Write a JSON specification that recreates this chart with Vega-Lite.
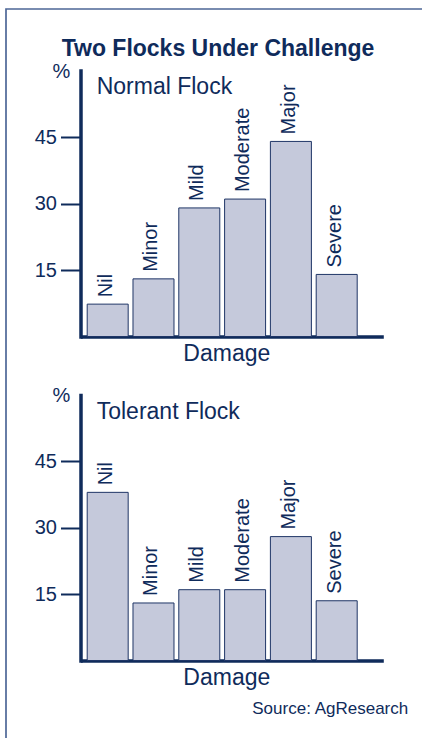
{
  "$schema": "https://vega.github.io/schema/vega-lite/v6.json",
  "width": 418,
  "height": 731,
  "autosize": {"type": "none"},
  "padding": {"left": 6, "top": 9, "right": -2, "bottom": -2},
  "background": "white",
  "title": {
    "text": "Two Flocks Under Challenge",
    "anchor": "middle",
    "frame": "group",
    "baseline": "alphabetic",
    "offset": -69.5,
    "dx": 3,
    "font": "Liberation Sans",
    "fontSize": 23,
    "fontWeight": "bold",
    "color": "#0f2b5b"
  },
  "config": {
    "view": {"stroke": "#4e6797", "strokeWidth": 1.7},
    "font": "Liberation Sans",
    "text": {"font": "Liberation Sans", "color": "#0f2b5b"},
    "axis": {
      "labelFont": "Liberation Sans",
      "titleFont": "Liberation Sans",
      "titleFontWeight": "normal",
      "grid": false
    }
  },
  "data": {
    "values": [
      {"flock": "Normal Flock", "damage": "Nil", "pct": 7.3},
      {"flock": "Normal Flock", "damage": "Minor", "pct": 13},
      {"flock": "Normal Flock", "damage": "Mild", "pct": 29},
      {"flock": "Normal Flock", "damage": "Moderate", "pct": 31},
      {"flock": "Normal Flock", "damage": "Major", "pct": 44},
      {"flock": "Normal Flock", "damage": "Severe", "pct": 14},
      {"flock": "Tolerant Flock", "damage": "Nil", "pct": 38},
      {"flock": "Tolerant Flock", "damage": "Minor", "pct": 13},
      {"flock": "Tolerant Flock", "damage": "Mild", "pct": 16},
      {"flock": "Tolerant Flock", "damage": "Moderate", "pct": 16},
      {"flock": "Tolerant Flock", "damage": "Major", "pct": 28},
      {"flock": "Tolerant Flock", "damage": "Severe", "pct": 13.5}
    ]
  },
  "resolve": {
    "scale": {"y": "independent"},
    "axis": {"x": "independent", "y": "independent"}
  },
  "layer": [
    {
      "transform": [{"filter": "datum.flock === 'Normal Flock'"}],
      "layer": [
        {
          "mark": {"type": "bar", "fill": "#c5c9db", "stroke": "#1f3566", "strokeWidth": 1},
          "encoding": {
            "x": {
              "field": "damage", "type": "nominal",
              "sort": ["Nil", "Minor", "Mild", "Moderate", "Major", "Severe"],
              "scale": {"range": [74.5, 377.3], "paddingInner": 0.105, "paddingOuter": 0.358, "align": 0.204},
              "axis": {
                "orient": "bottom", "offset": -403.5,
                "domainWidth": 3.5, "domainColor": "#0f2b5b",
                "ticks": false, "labels": false,
                "title": "Damage", "titleFontSize": 23, "titleColor": "#0f2b5b",
                "titleX": 220.3, "titleY": 24.2, "titleAlign": "center", "titleBaseline": "alphabetic"
              }
            },
            "y": {
              "field": "pct", "type": "quantitative",
              "scale": {"domain": [0, 60], "range": [327.5, 61.5], "nice": false},
              "axis": {
                "orient": "left", "offset": -74.5, "values": [15, 30, 45],
                "domainWidth": 3.5, "domainColor": "#0f2b5b", "domainCap": "square",
                "tickSize": 20, "tickWidth": 2, "tickColor": "#0f2b5b",
                "labelFontSize": 20, "labelColor": "#0f2b5b", "labelPadding": 4,
                "title": "%", "titleAngle": 0, "titleX": -19.5, "titleY": 62.5,
                "titleAlign": "center", "titleBaseline": "middle",
                "titleFontSize": 20, "titleColor": "#0f2b5b"
              }
            }
          }
        },
        {
          "mark": {"type": "text", "angle": 270, "align": "left", "baseline": "middle", "dx": 7, "dy": -2, "fontSize": 20},
          "encoding": {
            "x": {"field": "damage", "type": "nominal", "sort": ["Nil", "Minor", "Mild", "Moderate", "Major", "Severe"]},
            "y": {"field": "pct", "type": "quantitative"},
            "text": {"field": "damage"}
          }
        },
        {
          "transform": [{"filter": "datum.damage === 'Nil'"}],
          "mark": {"type": "text", "align": "left", "baseline": "alphabetic", "dx": 9.5, "fontSize": 23},
          "encoding": {
            "x": {"field": "damage", "type": "nominal", "sort": ["Nil", "Minor", "Mild", "Moderate", "Major", "Severe"], "bandPosition": 0},
            "y": {"datum": 54.6, "type": "quantitative"},
            "text": {"field": "flock"}
          }
        }
      ]
    },
    {
      "transform": [{"filter": "datum.flock === 'Tolerant Flock'"}],
      "layer": [
        {
          "mark": {"type": "bar", "fill": "#c5c9db", "stroke": "#1f3566", "strokeWidth": 1},
          "encoding": {
            "x": {
              "field": "damage", "type": "nominal",
              "sort": ["Nil", "Minor", "Mild", "Moderate", "Major", "Severe"],
              "scale": {"range": [74.5, 377.3], "paddingInner": 0.105, "paddingOuter": 0.358, "align": 0.204},
              "axis": {
                "orient": "bottom", "offset": -79.5,
                "domainWidth": 3.5, "domainColor": "#0f2b5b",
                "ticks": false, "labels": false,
                "title": "Damage", "titleFontSize": 23, "titleColor": "#0f2b5b",
                "titleX": 220.3, "titleY": 24.2, "titleAlign": "center", "titleBaseline": "alphabetic"
              }
            },
            "y": {
              "field": "pct", "type": "quantitative",
              "scale": {"domain": [0, 60], "range": [651.5, 386], "nice": false},
              "axis": {
                "orient": "left", "offset": -74.5, "values": [15, 30, 45],
                "domainWidth": 3.5, "domainColor": "#0f2b5b", "domainCap": "square",
                "tickSize": 20, "tickWidth": 2, "tickColor": "#0f2b5b",
                "labelFontSize": 20, "labelColor": "#0f2b5b", "labelPadding": 4,
                "title": "%", "titleAngle": 0, "titleX": -19.5, "titleY": 386,
                "titleAlign": "center", "titleBaseline": "middle",
                "titleFontSize": 20, "titleColor": "#0f2b5b"
              }
            }
          }
        },
        {
          "mark": {"type": "text", "angle": 270, "align": "left", "baseline": "middle", "dx": 7, "dy": -2, "fontSize": 20},
          "encoding": {
            "x": {"field": "damage", "type": "nominal", "sort": ["Nil", "Minor", "Mild", "Moderate", "Major", "Severe"]},
            "y": {"field": "pct", "type": "quantitative"},
            "text": {"field": "damage"}
          }
        },
        {
          "transform": [{"filter": "datum.damage === 'Nil'"}],
          "mark": {"type": "text", "align": "left", "baseline": "alphabetic", "dx": 9.5, "fontSize": 23},
          "encoding": {
            "x": {"field": "damage", "type": "nominal", "sort": ["Nil", "Minor", "Mild", "Moderate", "Major", "Severe"], "bandPosition": 0},
            "y": {"datum": 54.5, "type": "quantitative"},
            "text": {"field": "flock"}
          }
        },
        {
          "transform": [{"filter": "datum.damage === 'Severe'"}],
          "mark": {"type": "text", "align": "right", "baseline": "alphabetic", "dx": 51, "fontSize": 17},
          "encoding": {
            "x": {"field": "damage", "type": "nominal", "sort": ["Nil", "Minor", "Mild", "Moderate", "Major", "Severe"], "bandPosition": 1},
            "y": {"datum": -12.1, "type": "quantitative"},
            "text": {"value": "Source: AgResearch"}
          }
        }
      ]
    }
  ]
}
